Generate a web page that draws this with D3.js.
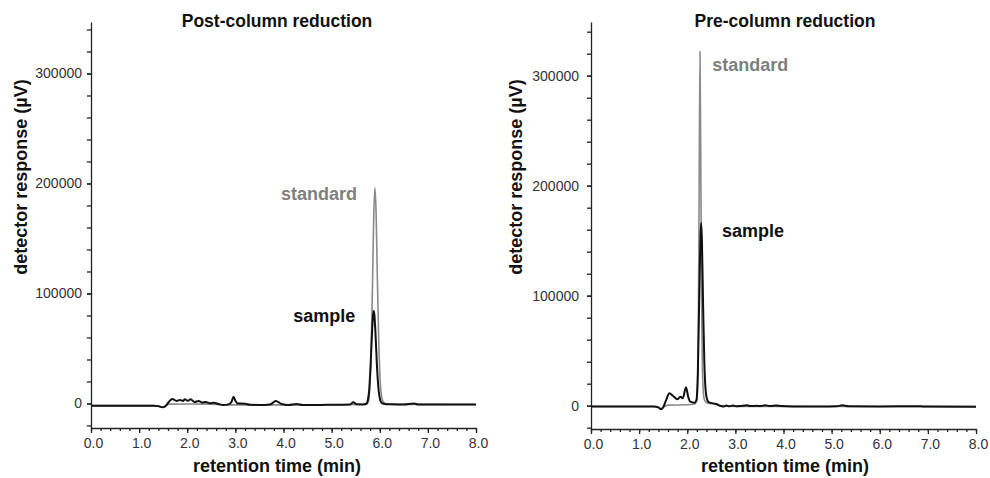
<!DOCTYPE html>
<html>
<head>
<meta charset="utf-8">
<script src="https://cdn.jsdelivr.net/npm/d3@7"></script>
<style>
  body { margin: 0; background: #fff; }
  svg { display: block; font-family: 'Liberation Sans', Arial, sans-serif; }
</style>
</head>
<body>
<div id="chart"></div>
<script>
// Tick values
const xMajorTicks = [0, 1, 2, 3, 4, 5, 6, 7, 8];
const yMajorTicks = [0, 100000, 200000, 300000];

// Post-column reduction: [retention time (min), response (µV)]
const postStandard = [
  [0, -2000], [1.3, -2000], [1.4, -2400], [1.48, -3500], [1.56, -1500], [1.62, -600],
  [2.0, -500], [2.5, -600], [2.75, -1300], [3.0, -1300], [4.0, -1300], [5.0, -1200],
  [5.7, -1000], [5.76, 1000], [5.79, 12000], [5.82, 45000], [5.85, 110000], [5.875, 170000],
  [5.9, 196000], [5.925, 172000], [5.95, 115000], [5.98, 55000], [6.01, 20000], [6.04, 6000],
  [6.08, 1000], [6.15, -500], [6.3, -800], [8.0, -1000]
];
const postSample = [
  [0, -2000], [1.0, -2000], [1.3, -2000], [1.4, -2400], [1.48, -3500], [1.55, -2500],
  [1.6, 500], [1.65, 3000], [1.69, 4100], [1.78, 2300], [1.85, 3200], [1.91, 2300],
  [1.95, 3800], [2.01, 2500], [2.07, 3800], [2.15, 1400], [2.24, 2300], [2.31, 700],
  [2.38, 1400], [2.48, 200], [2.55, 700], [2.65, -500], [2.75, -1400], [2.87, -600],
  [2.92, 1500], [2.96, 6200], [3.0, 2500], [3.04, 200], [3.2, -200], [3.31, -1100],
  [3.6, -1400], [3.72, -1000], [3.84, 2300], [3.96, -500], [4.1, -1400], [4.27, -500],
  [4.4, -1400], [4.8, -1300], [5.2, -1100], [5.38, -900], [5.45, 1000], [5.52, -800],
  [5.65, -900], [5.72, -300], [5.75, 2500], [5.78, 12000], [5.81, 35000], [5.84, 65000],
  [5.86, 80000], [5.875, 84000], [5.89, 80000], [5.91, 65000], [5.94, 36000], [5.97, 15000],
  [6.0, 5000], [6.03, 1000], [6.08, -300], [6.2, -800], [6.5, -900], [6.71, 0],
  [6.8, -900], [7.3, -1000], [8.0, -1000]
];

// Pre-column reduction
const preStandard = [
  [0, -700], [1.3, -800], [1.4, -1500], [1.455, -3200], [1.52, -1000], [1.6, 500],
  [2.0, 800], [2.15, 1500], [2.2, 5000], [2.225, 40000], [2.245, 180000], [2.265, 322000],
  [2.285, 190000], [2.305, 70000], [2.33, 15000], [2.36, 5000], [2.42, 2500], [2.6, 1200],
  [2.7, -500], [3.0, -600], [8.0, -900]
];
const preSample = [
  [0, -700], [1.0, -700], [1.3, -800], [1.4, -1500], [1.455, -3200], [1.5, -1500],
  [1.56, 5000], [1.63, 11300], [1.7, 9000], [1.8, 5800], [1.855, 8200], [1.905, 6700],
  [1.975, 16700], [2.02, 8000], [2.065, 3600], [2.15, 2700], [2.19, 5000], [2.22, 30000],
  [2.25, 100000], [2.275, 155000], [2.29, 166000], [2.305, 150000], [2.33, 90000],
  [2.355, 40000], [2.38, 15000], [2.41, 6000], [2.45, 3000], [2.6, 1500], [2.7, -300],
  [2.76, -800], [2.81, 200], [2.87, -600], [2.95, 200], [3.02, -500], [3.1, -300],
  [3.24, 400], [3.32, -400], [3.45, 0], [3.52, -400], [3.62, 500], [3.72, -400],
  [3.85, 200], [3.95, -300], [4.2, -700], [4.8, -800], [5.1, -600], [5.22, 300],
  [5.35, -600], [6.0, -700], [6.8, -500], [6.9, -700], [8.0, -900]
];

// Annotation anchors in data units: [time, response]
const postLabels = [
  { text: 'standard', at: [3.95, 185000], color: '#7f7f7f' },
  { text: 'sample', at: [4.2, 74000], color: '#111' }
];
const preLabels = [
  { text: 'standard', at: [2.52, 304000], color: '#7f7f7f' },
  { text: 'sample', at: [2.72, 153000], color: '#111' }
];

const width = 990;
const height = 478;

const svg = d3
  .select('#chart')
  .append('svg')
  .attr('width', width)
  .attr('height', height);

const panels = [
  {
    title: 'Post-column reduction',
    standard: postStandard,
    sample: postSample,
    labels: postLabels,
    left: 91, right: 476, top: 22, bottom: 428,
    yMin: -22300, yMax: 346800,
    yPad: 5, yTitleX: 27, centerX: 277
  },
  {
    title: 'Pre-column reduction',
    standard: preStandard,
    sample: preSample,
    labels: preLabels,
    left: 591, right: 976, top: 22, bottom: 429,
    yMin: -21200, yMax: 348800,
    yPad: 8, yTitleX: 522, centerX: 785
  }
];

function drawPanel(p) {
  const x = d3.scaleLinear().domain([0, 8]).range([p.left, p.right]);
  const y = d3.scaleLinear().domain([p.yMin, p.yMax]).range([p.bottom, p.top]);
  const g = svg.append('g');

  // Y axis: minor ticks every 20000, labels every 100000
  g.append('g')
    .attr('transform', `translate(${p.left},0)`)
    .call(d3.axisLeft(y).tickValues(d3.range(-20000, 340001, 20000)).tickSize(4).tickSizeOuter(0).tickFormat(''))
    .call((a) => a.select('.domain').remove());

  g.append('g')
    .attr('class', 'y-axis')
    .attr('transform', `translate(${p.left},0)`)
    .call(d3.axisLeft(y).tickValues(yMajorTicks).tickSize(4).tickSizeOuter(0).tickPadding(p.yPad).tickFormat(d3.format('d')));

  // X axis: minor ticks every 0.2, labels every 1.0
  g.append('g')
    .attr('transform', `translate(0,${p.bottom})`)
    .call(d3.axisBottom(x).tickValues(d3.range(0, 8.01, 0.2)).tickSize(3).tickSizeOuter(0).tickFormat(''))
    .call((a) => a.select('.domain').remove());

  g.append('g')
    .attr('class', 'x-axis')
    .attr('transform', `translate(0,${p.bottom})`)
    .call(d3.axisBottom(x).tickValues(xMajorTicks).tickSize(5).tickSizeOuter(0).tickPadding(5).tickFormat(d3.format('.1f')));

  g.selectAll('.domain, .tick line').attr('stroke', '#222').attr('stroke-width', 1.3);
  g.selectAll('.tick text')
    .attr('fill', '#333')
    .style('font-size', '14px');
  g.selectAll('.x-axis .tick text').attr('dx', 2);

  // Traces: standard (grey) below, sample (black) on top
  const line = d3
    .line()
    .x((d) => x(d[0]))
    .y((d) => y(d[1]))
    .curve(d3.curveMonotoneX);

  g.append('path')
    .datum(p.standard)
    .attr('fill', 'none')
    .attr('stroke', '#8a8a8a')
    .attr('stroke-width', 1.6)
    .attr('d', line);

  g.append('path')
    .datum(p.sample)
    .attr('fill', 'none')
    .attr('stroke', '#111')
    .attr('stroke-width', 2)
    .attr('d', line);

  // Series labels
  g.selectAll('.series-label')
    .data(p.labels)
    .join('text')
    .attr('class', 'series-label')
    .attr('x', (d) => x(d.at[0]))
    .attr('y', (d) => y(d.at[1]))
    .attr('fill', (d) => d.color)
    .style('font-size', '18px')
    .style('font-weight', 'bold')
    .text((d) => d.text);

  // Title
  g.append('text')
    .attr('x', p.centerX)
    .attr('y', 27)
    .attr('text-anchor', 'middle')
    .attr('fill', '#111')
    .style('font-size', '17.5px')
    .style('font-weight', 'bold')
    .text(p.title);

  // Axis titles
  g.append('text')
    .attr('x', p.centerX)
    .attr('y', 472)
    .attr('text-anchor', 'middle')
    .attr('fill', '#111')
    .style('font-size', '18px')
    .style('font-weight', 'bold')
    .text('retention time (min)');

  g.append('text')
    .attr('transform', `translate(${p.yTitleX},177) rotate(-90)`)
    .attr('text-anchor', 'middle')
    .attr('fill', '#111')
    .style('font-size', '18px')
    .style('font-weight', 'bold')
    .text('detector response (µV)');
}

panels.forEach(drawPanel);
</script>
</body>
</html>
